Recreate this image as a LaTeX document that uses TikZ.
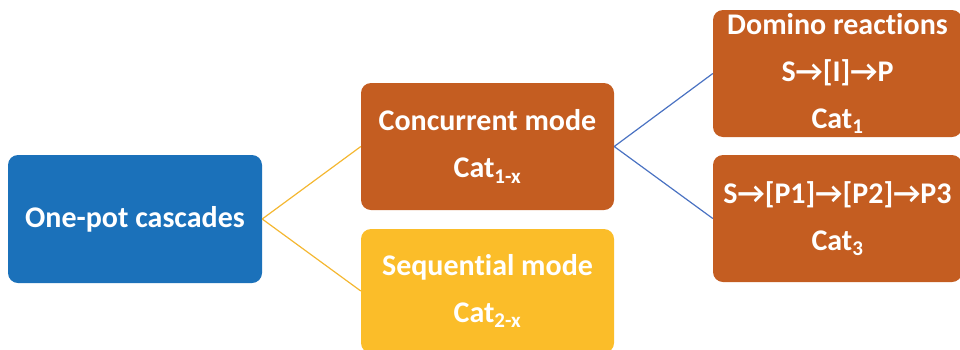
\documentclass[tikz,border=0pt]{standalone}
\usepackage{fontspec}
\setmainfont{Carlito}[Ligatures=NoCommon]
\usepackage{tikz}
\usetikzlibrary{positioning}

\definecolor{potblue}{HTML}{1B71BA}
\definecolor{modeorange}{HTML}{C45D21}
\definecolor{modeyellow}{HTML}{FBBD29}
\definecolor{linkyellow}{HTML}{F4B731}
\definecolor{linkblue}{HTML}{4A72C2}

\begin{document}
\begin{tikzpicture}[x=1pt,y=-1pt]

	\tikzset{boxstyle/.style={rounded corners=10pt, text=white, align=center, inner sep=0pt,
			font=\bfseries\fontsize{30}{47}\selectfont}}
	\tikzset{rootstyle/.style={boxstyle, fill=potblue, minimum width=254pt, minimum height=128pt}}
	\tikzset{modestyle/.style={boxstyle, minimum width=253pt, minimum height=127pt}}
	\tikzset{leafstyle/.style={boxstyle, fill=modeorange, minimum width=249pt, minimum height=127pt}}
	\tikzset{yellowedge/.style={-, draw=linkyellow, line width=1.2pt}}
	\tikzset{blueedge/.style={-, draw=linkblue, line width=1.2pt}}

	\useasboundingbox (0,0) rectangle (960,349);

	\node[rootstyle] at (135,219) (cascade) {One-pot cascades};
	\node[modestyle, fill=modeorange] at (487.5,146.5) (concurrent) {Concurrent mode\\Cat\textsubscript{1-x}};
	\node[modestyle, fill=modeyellow, minimum height=124pt] at (487.5,291) (sequential) {Sequential mode\\Cat\textsubscript{2-x}};
	\node[leafstyle] at (837.5,73.5) (domino) {Domino reactions\\S→[I]→P\\Cat\textsubscript{1}};
	\node[leafstyle] at (837.5,218.5) (stepwise) {S→[P1]→[P2]→P3\\Cat\textsubscript{3}};

	\draw[yellowedge]
	(cascade.east) to (concurrent.west)
	(cascade.east) to (sequential.west);

	\draw[blueedge]
	(concurrent.east) to (domino.west)
	(concurrent.east) to (stepwise.west);
\end{tikzpicture}
\end{document}
